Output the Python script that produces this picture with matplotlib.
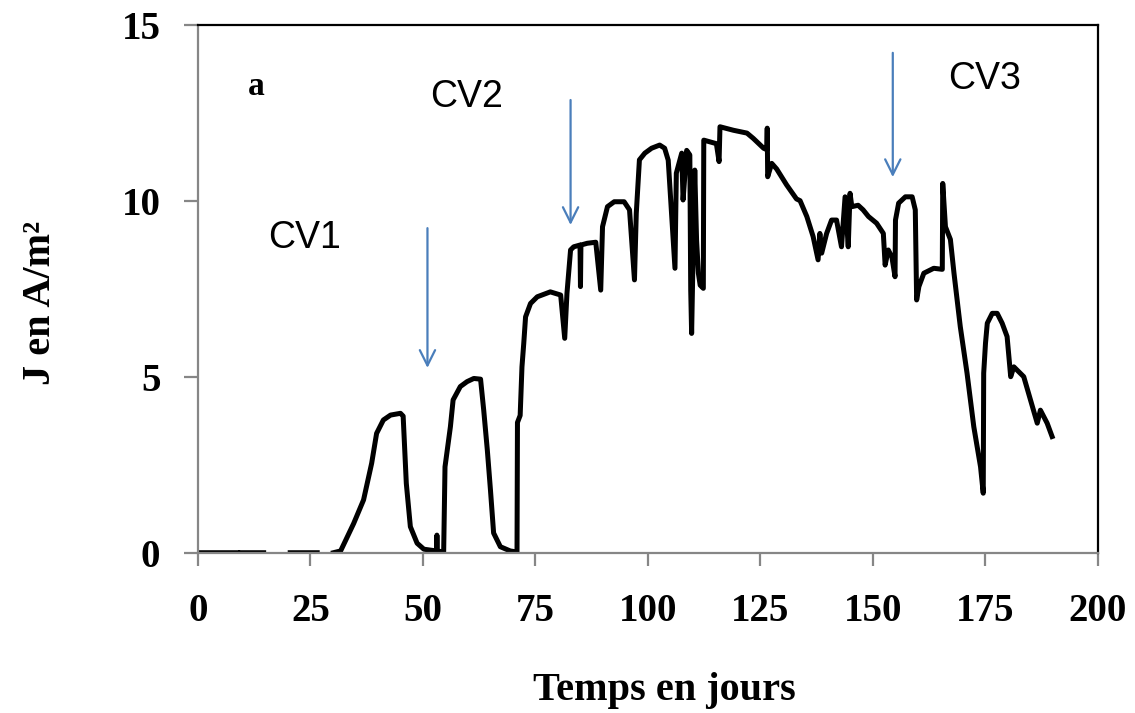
import numpy as np
import matplotlib
matplotlib.use("Agg")
import matplotlib.pyplot as plt

nan = np.nan

# Time (days) and current density J (A/m2)
days = [0, 8.8, nan, 9.6, 14.6, nan, 20.5, 26.5, nan,
        30.1, 31.7, 33.0, 34.6, 36.8, 38.6, 39.7, 41.2, 42.8, 45.0, 45.6,
        46.3, 47.2, 48.7, 50.2, 53.0, 53.1, 53.2, 54.6, 54.9, 56.1, 56.7,
        58.3, 59.8, 61.3, 62.8, 63.5, 64.3, 65.0, 65.7, 67.2, 69.4, 70.9,
        71.0, 71.6, 72.0, 72.4, 72.8, 73.9, 75.4, 78.3, 80.6, 81.5, 82.0,
        82.8, 83.5, 84.9, 85.0, 85.1, 86.5, 88.4, 89.5, 89.9, 91.0, 92.5,
        94.7, 95.9, 97.0, 97.4, 98.1, 99.3, 100.8, 102.6, 103.7, 104.5,
        105.2, 106.0, 106.3, 107.5, 107.8, 108.6, 109.3, 109.5, 109.7,
        110.1, 110.4, 110.8, 111.2, 111.6, 112.3, 112.4, 115.2, 115.8,
        116.0, 119.0, 122.0, 123.4, 125.7, 126.4, 126.5, 126.6, 127.5,
        128.6, 130.8, 133.0, 133.8, 135.3, 136.7, 137.8, 138.2, 138.6,
        139.7, 140.8, 141.9, 143.0, 143.8, 144.5, 144.9, 145.3, 146.7,
        147.8, 149.0, 150.8, 152.3, 152.7, 153.4, 154.2, 154.9, 155.0,
        155.7, 157.2, 158.7, 159.4, 159.7, 160.2, 161.3, 163.5, 165.4,
        165.5, 166.1, 167.2, 168.0, 169.4, 170.9, 172.4, 173.9, 174.5,
        174.6, 175.0, 175.4, 176.5, 177.6, 178.7, 179.8, 180.6, 181.3,
        183.5, 185.0, 186.5, 187.2, 188.7, 189.8]
J = [0, 0, nan, 0, 0, nan, 0, 0, nan,
     0, 0.05, 0.4, 0.83, 1.5, 2.54, 3.39, 3.77, 3.91, 3.96, 3.88,
     1.97, 0.74, 0.27, 0.1, 0.05, 0.5, 0.05, 0.02, 2.44, 3.58, 4.34,
     4.72, 4.86, 4.95, 4.93, 4.05, 2.92, 1.78, 0.56, 0.17, 0.05, 0.02,
     3.7, 3.9, 5.28, 5.95, 6.7, 7.08, 7.27, 7.41, 7.32, 6.09, 7.37,
     8.6, 8.69, 8.74, 7.56, 8.74, 8.79, 8.82, 7.46, 9.26, 9.83, 9.97,
     9.97, 9.74, 7.75, 9.64, 11.16, 11.35, 11.49, 11.58, 11.49, 11.15,
     9.74, 8.08, 10.78, 11.35, 10.02, 11.43, 11.3, 7.46, 6.23,
     9.0, 10.87, 8.88, 7.94, 7.6, 7.51, 11.72, 11.62, 11.11,
     12.1, 12.0, 11.92, 11.77, 11.49, 11.45, 12.06, 10.68, 11.06,
     10.9, 10.45, 10.05, 10.0, 9.55, 8.98, 8.32, 9.07, 8.51,
     9.07, 9.45, 9.45, 8.69, 10.11, 8.69, 10.21, 9.83, 9.87,
     9.74, 9.55, 9.36, 9.07, 8.17, 8.6, 8.4, 7.84, 9.45,
     9.93, 10.11, 10.11, 9.74, 7.18, 7.56, 7.94, 8.08, 8.05,
     10.49, 9.26, 8.9, 7.94, 6.42, 5.1, 3.58, 2.44, 1.69,
     5.1, 5.95, 6.52, 6.8, 6.8, 6.52, 6.14, 5.0, 5.28,
     5.0, 4.34, 3.68, 4.05, 3.68, 3.3]

# Annotations: label text/position and arrow (x, start y, end y)
cv_labels = ["CV1", "CV2", "CV3"]
cv_label_x = [23.8, 59.6, 174.8]
cv_label_y = [8.95, 12.95, 13.45]
arrow_x = [51.0, 82.8, 154.4]
arrow_y0 = [9.22, 12.86, 14.2]
arrow_y1 = [5.25, 9.31, 10.67]

fig = plt.figure(figsize=(11.35, 7.13), dpi=100)
ax = fig.add_axes([0.1744, 0.2248, 0.7930, 0.7406])

ax.plot(days, J, color="black", lw=3.6, solid_joinstyle="round")

for i in range(len(cv_labels)):
    ax.annotate("", xy=(arrow_x[i], arrow_y1[i]), xytext=(arrow_x[i], arrow_y0[i]),
                arrowprops=dict(arrowstyle="->,head_length=1.1,head_width=0.55",
                                color="#4a7ebb", lw=1.6, shrinkA=0, shrinkB=0))
    ax.text(cv_label_x[i], cv_label_y[i], cv_labels[i], ha="center", va="center",
            fontsize=27, family="Liberation Sans")

ax.text(13.0, 13.25, "a", ha="center", va="center", fontsize=24,
        family="Liberation Serif", fontweight="bold")

ax.set_xlim(0, 200)
ax.set_ylim(0, 15)
ax.set_xticks([0, 25, 50, 75, 100, 125, 150, 175, 200])
ax.set_yticks([0, 5, 10, 15])

for name in ["left", "bottom"]:
    ax.spines[name].set_color("#868686")
    ax.spines[name].set_linewidth(1.6)
for name in ["top", "right"]:
    ax.spines[name].set_color("black")
    ax.spines[name].set_linewidth(1.6)

ax.tick_params(axis="x", direction="out", length=9, width=1.6, color="#868686",
               pad=20, labelsize=28)
ax.tick_params(axis="y", direction="out", length=10, width=1.6, color="#868686",
               pad=17, labelsize=28)
for lab in ax.get_xticklabels() + ax.get_yticklabels():
    lab.set_family("Liberation Serif")
    lab.set_fontweight("bold")

ax.set_xlabel("Temps en jours", family="Liberation Serif", fontweight="bold",
              fontsize=29, va="center")
ax.xaxis.set_label_coords(0.518, -0.26)
ax.set_ylabel("J en A/m²", family="Liberation Serif", fontweight="bold",
              fontsize=29, va="center")
ax.yaxis.set_label_coords(-0.175, 0.473)

fig.savefig("out.png", dpi=100)
